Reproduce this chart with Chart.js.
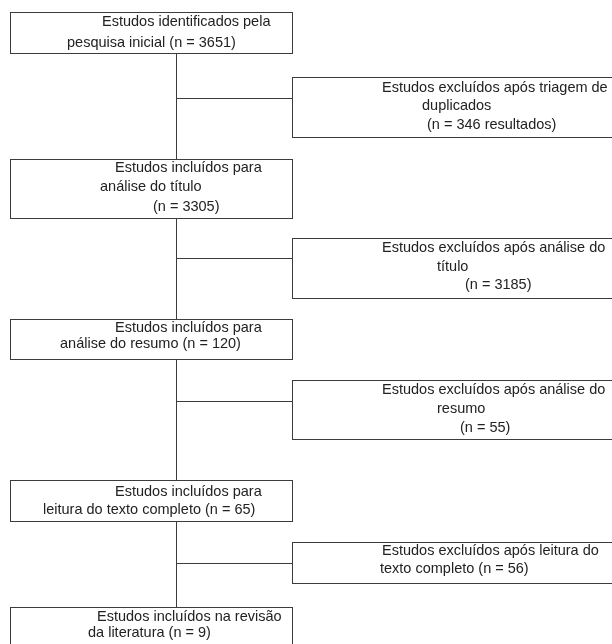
<!DOCTYPE html>
<html>
<head>
<meta charset="utf-8">
<script src="https://cdn.jsdelivr.net/npm/chart.js@4"></script>
<style>
  html, body { margin: 0; padding: 0; background: #fff; }
  #wrap { width: 612px; height: 644px; }
</style>
</head>
<body>
<div id="wrap"><canvas id="flow"></canvas></div>
<script>
//step texts (left column = included, right column = excluded)
const includedLines = [
  ["Estudos identificados pela", "pesquisa inicial (n = 3651)"],
  ["Estudos incluídos para", "análise do título", "(n = 3305)"],
  ["Estudos incluídos para", "análise do resumo (n = 120)"],
  ["Estudos incluídos para", "leitura do texto completo (n = 65)"],
  ["Estudos incluídos na revisão", "da literatura (n = 9)"],
];
const excludedLines = [
  ["Estudos excluídos após triagem de", "duplicados", "(n = 346 resultados)"],
  ["Estudos excluídos após análise do", "título", "(n = 3185)"],
  ["Estudos excluídos após análise do", "resumo", "(n = 55)"],
  ["Estudos excluídos após leitura do", "texto completo (n = 56)"],
];
const includedCounts = [3651, 3305, 120, 65, 9];
const excludedCounts = [346, 3185, 55, 56];

//layout in diagram units (x 0..612, y 0..644 top-down)
const layout = {
  spineX: 176,
  leftBox: { x0: 10, x1: 292 },
  rightBox: { x0: 292, x1: 640 },
  leftTops: [12, 159, 319, 480, 607],
  leftBottoms: [53, 218, 359, 521, 660],
  rightTops: [77, 238, 380, 542],
  rightBottoms: [137, 298, 439, 583],
  branchY: [98, 258, 401, 563],
  //left x / centre y of each text line
  leftText: [
    [[102, 22], [67, 43]],
    [[115, 168], [100, 187], [153, 207]],
    [[115, 328], [60, 344]],
    [[115, 492], [43, 510]],
    [[97, 617], [88, 633]],
  ],
  rightText: [
    [[382, 88], [422, 106], [427, 125]],
    [[382, 248], [437, 267], [465, 285]],
    [[382, 390], [437, 409], [460, 428]],
    [[382, 551], [380, 569]],
  ],
};

const lineColor = "#3c3c3c";
const textColor = "#222";
const fontSpec = "14.5px 'Liberation Sans', Arial, sans-serif";

//draws boxes, connectors and texts through the chart scales
const flowPlugin = {
  id: "flowPlugin",
  afterDraw(chart) {
    const ctx = chart.ctx;
    const sx = chart.scales.x;
    const sy = chart.scales.y;
    const px = (v) => Math.round(sx.getPixelForValue(v)) + 0.5;
    const py = (v) => Math.round(sy.getPixelForValue(v)) + 0.5;
    ctx.save();
    ctx.strokeStyle = lineColor;
    ctx.lineWidth = 1;

    //spine
    ctx.beginPath();
    ctx.moveTo(px(layout.spineX), py(layout.leftBottoms[0]));
    ctx.lineTo(px(layout.spineX), py(layout.leftTops[4]));
    ctx.stroke();

    //branches
    layout.branchY.forEach((y) => {
      ctx.beginPath();
      ctx.moveTo(px(layout.spineX), py(y));
      ctx.lineTo(px(layout.rightBox.x0), py(y));
      ctx.stroke();
    });

    //boxes
    const drawBox = (x0, y0, x1, y1) => {
      ctx.fillStyle = "#fff";
      ctx.fillRect(px(x0), py(y0), px(x1) - px(x0), py(y1) - py(y0));
      ctx.strokeRect(px(x0), py(y0), px(x1) - px(x0), py(y1) - py(y0));
    };
    includedLines.forEach((_, i) => {
      drawBox(layout.leftBox.x0, layout.leftTops[i], layout.leftBox.x1, layout.leftBottoms[i]);
    });
    excludedLines.forEach((_, i) => {
      drawBox(layout.rightBox.x0, layout.rightTops[i], layout.rightBox.x1, layout.rightBottoms[i]);
    });

    //texts
    ctx.fillStyle = textColor;
    ctx.font = fontSpec;
    ctx.textAlign = "left";
    ctx.textBaseline = "middle";
    includedLines.forEach((lines, i) => {
      lines.forEach((t, j) => {
        const p = layout.leftText[i][j];
        ctx.fillText(t, sx.getPixelForValue(p[0]), sy.getPixelForValue(p[1]));
      });
    });
    excludedLines.forEach((lines, i) => {
      lines.forEach((t, j) => {
        const p = layout.rightText[i][j];
        ctx.fillText(t, sx.getPixelForValue(p[0]), sy.getPixelForValue(p[1]));
      });
    });
    ctx.restore();
  },
};

//counts as invisible points so the scales carry the data
new Chart(document.getElementById("flow"), {
  type: "scatter",
  data: {
    datasets: [
      {
        label: "incluídos",
        data: includedCounts.map((n, i) => ({ x: layout.spineX, y: layout.leftTops[i], n: n })),
        pointRadius: 0,
      },
      {
        label: "excluídos",
        data: excludedCounts.map((n, i) => ({ x: layout.rightBox.x0, y: layout.rightTops[i], n: n })),
        pointRadius: 0,
      },
    ],
  },
  options: {
    responsive: true,
    maintainAspectRatio: false,
    animation: false,
    layout: { padding: 0 },
    plugins: { legend: { display: false }, tooltip: { enabled: false } },
    scales: {
      x: { type: "linear", min: 0, max: 612, display: false },
      y: { type: "linear", min: 0, max: 644, reverse: true, display: false },
    },
  },
  plugins: [flowPlugin],
});
</script>
</body>
</html>
